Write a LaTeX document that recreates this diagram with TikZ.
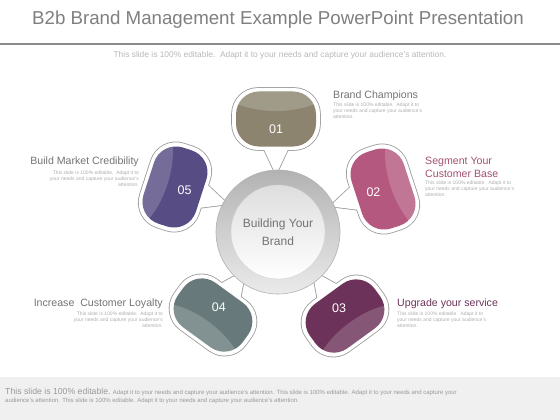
\documentclass[tikz,border=0pt]{standalone}
\usepackage{fontspec}
\setmainfont{Liberation Sans}

\definecolor{titlegray}{HTML}{7F7F7F}
\definecolor{headgray}{HTML}{737373}
\definecolor{taupe}{HTML}{8C846F}
\definecolor{rose}{HTML}{B5587F}
\definecolor{plum}{HTML}{6C3259}
\definecolor{slate}{HTML}{67797A}
\definecolor{iris}{HTML}{574C83}

\tikzset{
  bubline/.style={draw=black!40, line width=1.6pt},
  numtxt/.style={text=white, font=\fontsize{12.5}{14}\selectfont},
  headtxt/.style={inner sep=0pt, font=\fontsize{10.6}{13}\selectfont},
  desctxt/.style={inner sep=0pt, text=black!32, font=\fontsize{5}{6}\selectfont},
}

% one speech bubble: x, y, angle, colour, number
\newcommand{\bubble}[5]{%
  \begin{scope}[shift={(#1,#2)}, rotate=#3]
    \draw[bubline] (-15,24) -- (0,56) -- (15,24);
    \draw[bubline, rounded corners=26pt] (-44,-31) rectangle (44,31);
    \fill[white] (-15,24) -- (0,56) -- (15,24) -- cycle;
    \fill[white, rounded corners=26pt] (-44,-31) rectangle (44,31);
    \fill[#4, rounded corners=23pt] (-40,-27.5) rectangle (40,27.5);
    \begin{scope}
      \clip[rounded corners=23pt] (-40,-27.5) rectangle (40,27.5);
      \fill[white, opacity=.18] (0,-40) ellipse (62pt and 32pt);
    \end{scope}
    \node[numtxt] (n#5) at (0,10) {#5};
  \end{scope}}

\begin{document}
\begin{tikzpicture}[x=1pt, y=-1pt]
  \useasboundingbox (0,0) rectangle (560,420);

  % heading
  \node[text=titlegray, font=\fontsize{18.7}{20}\selectfont] (title) at (278,20)
    {B2b Brand Management Example PowerPoint Presentation};
  \draw[black!45, line width=1.5pt] (0,44) -- (560,44);
  \node[text=black!28, font=\fontsize{8.4}{9}\selectfont] (sub) at (280,55)
    {This slide is 100\% editable.\ \ Adapt it to your needs and capture your audience's attention.};

  % bubbles
  \bubble{276}{119}{0}{taupe}{01}
  \bubble{383}{189}{-72}{rose}{02}
  \bubble{345}{316}{-144}{plum}{03}
  \bubble{213}{315}{-216}{slate}{04}
  \bubble{175}{187}{-288}{iris}{05}

  % centre
  \node[circle, minimum size=124pt, inner sep=0pt, draw=black!30, line width=.6pt,
        top color=black!30, bottom color=black!8] (ring) at (278,232) {};
  \node[circle, minimum size=94pt, inner sep=0pt, draw=black!18, line width=.4pt,
        top color=black!13, bottom color=white, text=black!55, align=center,
        font=\fontsize{12}{18}\selectfont] (core) at (ring.center) {Building Your\\Brand};

  % labels
  \node[headtxt, anchor=west, text=headgray] (h1) at (333,96) {Brand Champions};
  \node[desctxt, anchor=north west, align=left] (d1) at (333,102.5)
    {This slide is 100\% editable.\ \ Adapt it to\\your needs and capture your audience's\\attention.};
  \node[headtxt, anchor=north west, align=left, text=rose!90!black] (h2) at (425,157)
    {Segment Your\\Customer Base};
  \node[desctxt, anchor=north west, align=left] (d2) at (425,181)
    {This slide is 100\% editable.\ \ Adapt it to\\your needs and capture your audience's\\attention.};
  \node[headtxt, anchor=west, text=plum] (h3) at (397,304) {Upgrade your service};
  \node[desctxt, anchor=north west, align=left] (d3) at (397,312)
    {This slide is 100\% editable.\ \ Adapt it to\\your needs and capture your audience's\\attention.};
  \node[headtxt, anchor=east, text=headgray] (h4) at (163,304) {Increase\ \ Customer Loyalty};
  \node[desctxt, anchor=north east, align=right] (d4) at (163,312)
    {This slide is 100\% editable.\ \ Adapt it to\\your needs and capture your audience's\\attention.};
  \node[headtxt, anchor=east, text=headgray] (h5) at (139,162) {Build Market Credibility};
  \node[desctxt, anchor=north east, align=right] (d5) at (139,171)
    {This slide is 100\% editable.\ \ Adapt it to\\your needs and capture your audience's\\attention.};

  % footer
  \fill[black!6] (0,377) rectangle (560,420);
  \node[anchor=north west, inner sep=0pt, align=left, text=black!40,
        font=\fontsize{6}{7.5}\selectfont] (foot) at (5,388)
    {{\fontsize{8.7}{9}\selectfont This slide is 100\% editable.} Adapt it to your needs and capture your audience's attention. This slide is 100\% editable. Adapt it to your needs and capture your\\audience's attention. This slide is 100\% editable. Adapt it to your needs and capture your audience's attention.};
\end{tikzpicture}
\end{document}
